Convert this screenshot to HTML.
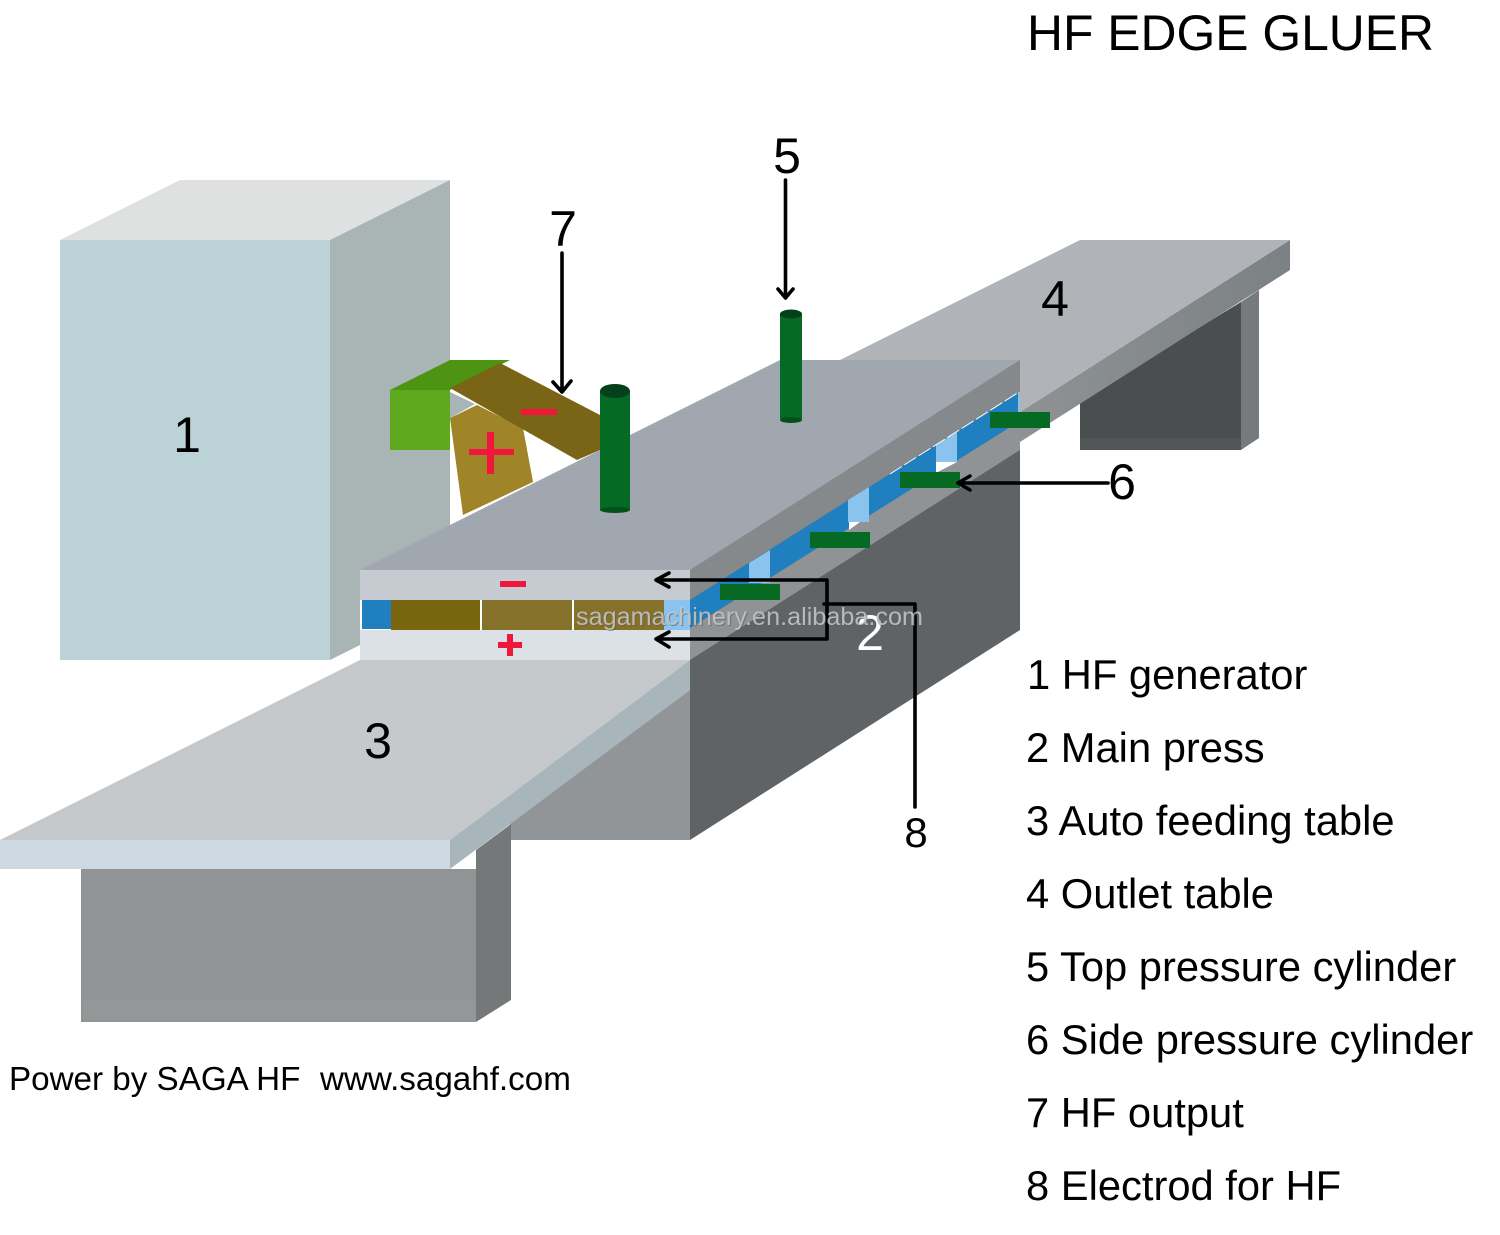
<!DOCTYPE html>
<html lang="en">
<head>
<meta charset="utf-8">
<title>HF Edge Gluer</title>
<style>
html,body{margin:0;padding:0;background:#fff;width:1500px;height:1235px;overflow:hidden}
svg{display:block}
text{font-family:"Liberation Sans",sans-serif;fill:#000}
</style>
</head>
<body>
<svg width="1500" height="1235" viewBox="0 0 1500 1235" xmlns="http://www.w3.org/2000/svg">
<defs>
<linearGradient id="sideG" x1="0" y1="0" x2="1" y2="0">
<stop offset="0" stop-color="#8e9294"/><stop offset="1" stop-color="#7c8183"/>
</linearGradient>
</defs>

<!-- Generator 1 -->
<polygon points="60,240 180,180 450,180 330,240" fill="#dfe1e1"/>
<polygon points="330,240 450,180 450,600 330,660" fill="#a9b4b5"/>
<rect x="60" y="240" width="270" height="420" fill="#bbd3d7"/>

<!-- white gap behind the electrodes -->
<polygon points="450,418 533,418 600,450 600,480 450,560" fill="#fff"/>

<!-- HF output -->
<rect x="390" y="390" width="60" height="60" fill="#5fa91f"/>
<polygon points="390,390 450,360 510,360 450,390" fill="#4c9412"/>
<polygon points="450,392 475,404 450,418" fill="#a9b4b5"/>
<polygon points="450,418 477,405 523,428 533,482 463,515" fill="#a08428"/>
<polygon points="450,388 500,363 600,415 600,450 577,460" fill="#7a6415"/>
<rect x="521" y="409" width="36" height="6" fill="#f0163c"/>
<rect x="469" y="449" width="45" height="6" fill="#f0163c"/>
<rect x="487" y="432" width="7" height="42" fill="#f0163c"/>

<!-- Outlet table 4 -->
<polygon points="1080,400 1241,302 1241,450 1080,450" fill="#4a4e4e"/>
<rect x="1080" y="438" width="161" height="12" fill="#535657"/>
<polygon points="1241,302 1259,290 1259,438 1241,450" fill="#767a7c"/>
<polygon points="1020,412 1290,240 1290,270 1020,442" fill="url(#sideG)"/>
<polygon points="840,360 1080,240 1290,240 1020,412 1020,360" fill="#b0b3b7"/>

<!-- Main press -->
<polygon points="360,570 780,360 1020,360 690,570" fill="#a1a7ae"/>
<polygon points="690,570 1020,360 1020,630 690,840" fill="#5f6365"/>
<polygon points="690,570 1020,360 1020,392 690,600" fill="#85898c"/>
<polygon points="690,628 1020,420 1020,450 690,660" fill="#8f9395"/>
<polygon points="690,600 1020,392 1020,421 690,628" fill="#1f7fbf"/>
<polygon points="749,563 770,550 770,583 749,583" fill="#8ac4ee"/>
<polygon points="848,500 869,487 869,522 848,522" fill="#8ac4ee"/>
<polygon points="936,445 957,432 957,462 936,462" fill="#8ac4ee"/>
<polygon points="849,522 860,522 849,530" fill="#fff"/>
<polygon points="936,462 957,462 936,473" fill="#fff"/>
<line x1="890" y1="474" x2="1019" y2="392" stroke="#fff" stroke-width="1" stroke-dasharray="14 3"/>
<line x1="1019" y1="392" x2="1019" y2="412" stroke="#fff" stroke-width="1"/>
<rect x="720" y="584" width="60" height="16" fill="#076a22"/>
<rect x="810" y="532" width="60" height="16" fill="#076a22"/>
<rect x="900" y="472" width="60" height="16" fill="#076a22"/>
<rect x="990" y="412" width="60" height="16" fill="#076a22"/>

<!-- Press front -->
<rect x="360" y="570" width="330" height="30" fill="#c6cbd2"/>
<rect x="360" y="630" width="330" height="30" fill="#dbe1e4"/>
<rect x="360" y="600" width="330" height="30" fill="#fff"/>
<rect x="362" y="600" width="29" height="29" fill="#1f7fbf"/>
<rect x="391" y="600" width="89" height="30" fill="#7a650f"/>
<rect x="482" y="600" width="90" height="30" fill="#85712a"/>
<rect x="574" y="600" width="90" height="30" fill="#85712a"/>
<rect x="664" y="600" width="26" height="30" fill="#8ac4ee"/>
<rect x="500" y="581" width="26" height="6" fill="#f0163c"/>
<rect x="498" y="642" width="24" height="6" fill="#f0163c"/>
<rect x="507" y="634" width="6" height="22" fill="#f0163c"/>

<!-- Feed table 3 -->
<polygon points="690,690 690,840 510,840 510,822" fill="#929597"/>
<rect x="81" y="869" width="395" height="153" fill="#929394"/>
<rect x="83" y="1000" width="393" height="22" fill="#959697"/>
<polygon points="476,850 511,824 511,1000 476,1022" fill="#757878"/>
<polygon points="0,840 360,660 690,660 450,840" fill="#c5c9cc"/>
<rect x="0" y="840" width="450" height="29" fill="#cddae3"/>
<polygon points="450,840 690,660 690,690 450,869" fill="#a8b6bc"/>

<!-- Cylinders -->
<rect x="600" y="391" width="30" height="119" fill="#056a23"/>
<ellipse cx="615" cy="510" rx="15" ry="3" fill="#04501c"/>
<ellipse cx="615" cy="391" rx="15" ry="7" fill="#04401a"/>
<rect x="780" y="313" width="22" height="106" fill="#056a23"/>
<ellipse cx="791" cy="420" rx="11" ry="3" fill="#04501c"/>
<ellipse cx="791" cy="314" rx="11" ry="4.500" fill="#04401a"/>

<!-- Connectors -->
<g fill="none" stroke="#000" stroke-width="3.600" stroke-linecap="round" stroke-linejoin="round">
<path d="M562 253V391M553 382L562 392L571 381"/>
<path d="M785.500 180V297M778 289L785.500 298L793 289"/>
<path d="M958 483H1108M970 476L958 483L970 490"/>
<path d="M657 580H827V639H657M669 573L656 580L669 587M669 632L656 639L669 647"/>
<path d="M824 604H915V807"/>
</g>

<!-- Numbers -->
<g font-size="50" text-anchor="middle">
<text x="187" y="452">1</text>
<text x="378" y="758">3</text>
<text x="1055" y="316">4</text>
<text x="787" y="173">5</text>
<text x="1122" y="499">6</text>
<text x="563" y="246">7</text>
</g>
<text x="870" y="650" font-size="50" text-anchor="middle" style="fill:#fff">2</text>
<text x="916" y="847" font-size="42" text-anchor="middle">8</text>

<!-- Watermark -->
<text x="577" y="626" font-size="25" textLength="347" lengthAdjust="spacingAndGlyphs" style="fill:#5a5a5a;opacity:.6">sagamachinery.en.alibaba.com</text>
<text x="576" y="625" font-size="25" textLength="347" lengthAdjust="spacingAndGlyphs" style="fill:#c9c9c9;opacity:.85">sagamachinery.en.alibaba.com</text>

<!-- Title -->
<text x="1027" y="50" font-size="50" textLength="407" lengthAdjust="spacingAndGlyphs">HF EDGE GLUER</text>

<!-- Legend -->
<g font-size="41.700">
<text x="1027" y="689">1 HF generator</text>
<text x="1026" y="762">2 Main press</text>
<text x="1026" y="835">3 Auto feeding table</text>
<text x="1026" y="908">4 Outlet table</text>
<text x="1026" y="981">5 Top pressure cylinder</text>
<text x="1026" y="1054">6 Side pressure cylinder</text>
<text x="1026" y="1127">7 HF output</text>
<text x="1026" y="1200">8 Electrod for HF</text>
</g>

<!-- Footer -->
<text x="9" y="1090" font-size="33.200">Power by SAGA HF</text>
<text x="320" y="1090" font-size="33.200">www.sagahf.com</text>
</svg>
</body>
</html>
